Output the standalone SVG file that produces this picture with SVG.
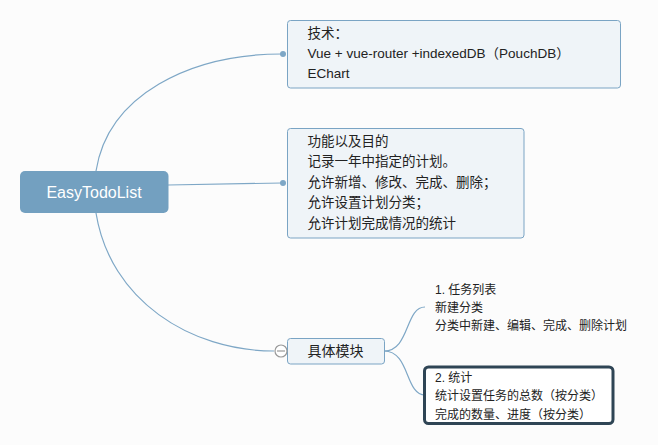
<svg xmlns="http://www.w3.org/2000/svg" width="658" height="445" viewBox="0 0 658 445">
<style>
.t{font-family:"Liberation Sans","Noto Sans CJK SC",sans-serif;fill:#222;}
.n{fill:#eff4f8;stroke:#7aa4c4;stroke-width:1;}
.c{fill:none;stroke:#7ea7c6;stroke-width:1.2;}
.d{fill:#7ea7c6;}
</style>
<rect width="658" height="445" fill="#fcfcfc"/>
<g id="connectors">
<path class="c" d="M96 171 C108 95 190 54 282 54"/>
<path class="c" d="M168 185 L282 183"/>
<path class="c" d="M96 213 C110 300 190 351 274 351"/>
<path class="c" d="M384 351 C410 351 405 307 425 307"/>
<path class="c" d="M384 351 C410 351 405 395 425 395"/>
<circle class="d" cx="283" cy="54" r="3"/>
<circle class="d" cx="283" cy="183" r="3"/>
</g>
<g id="root">
<rect x="20" y="171" width="148.5" height="42" rx="5" fill="#73a0c0"/>
<text class="t" x="94" y="197.5" font-size="16" text-anchor="middle" style="fill:#fff">EasyTodoList</text>
</g>
<g id="tech">
<rect class="n" x="287.5" y="20.5" width="333" height="67.5" rx="3"/>
<text class="t" font-size="13.5"><tspan x="307.5" y="37.5">技术：</tspan><tspan x="307.5" y="58">Vue + vue-router +indexedDB（PouchDB）</tspan><tspan x="307.5" y="78">EChart</tspan></text>
</g>
<g id="features">
<rect class="n" x="287.5" y="128.5" width="236.5" height="109.5" rx="3"/>
<text class="t" font-size="13.5"><tspan x="307.5" y="145.5">功能以及目的</tspan><tspan x="307.5" y="166">记录一年中指定的计划。</tspan><tspan x="307.5" y="186.5">允许新增、修改、完成、删除；</tspan><tspan x="307.5" y="207">允许设置计划分类；</tspan><tspan x="307.5" y="227.5">允许计划完成情况的统计</tspan></text>
</g>
<g id="modules">
<rect class="n" x="287.5" y="338.5" width="97" height="25.5" rx="3"/>
<text class="t" x="335.5" y="356" font-size="14" text-anchor="middle">具体模块</text>
<circle cx="281" cy="351" r="6" fill="#fff" stroke="#999" stroke-width="1.2"/>
<line x1="277" y1="351" x2="285" y2="351" stroke="#999" stroke-width="1.2"/>
</g>
<g id="tasklist">
<text class="t" font-size="12"><tspan x="435" y="293.5">1. 任务列表</tspan><tspan x="435" y="311.5">新建分类</tspan><tspan x="435" y="329.5">分类中新建、编辑、完成、删除计划</tspan></text>
</g>
<g id="stats">
<rect x="424.5" y="367" width="188.5" height="56.5" rx="4" fill="#fff" stroke="#2f4555" stroke-width="3"/>
<text class="t" font-size="12"><tspan x="435" y="381.5">2. 统计</tspan><tspan x="435" y="400">统计设置任务的总数（按分类）</tspan><tspan x="435" y="418.5">完成的数量、进度（按分类）</tspan></text>
</g>
</svg>
